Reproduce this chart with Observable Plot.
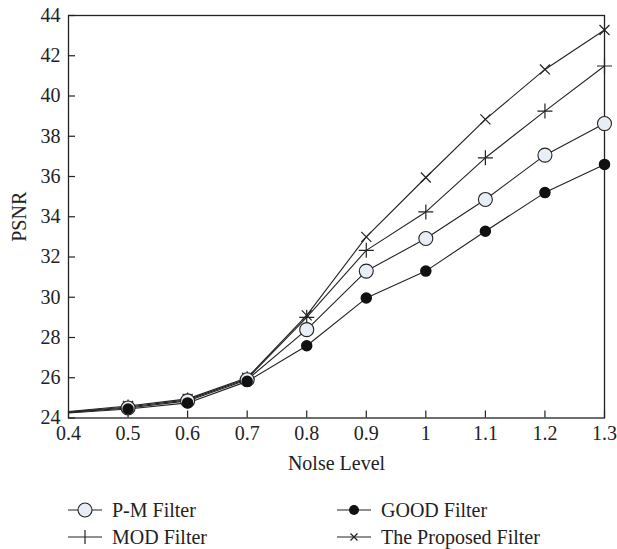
<!DOCTYPE html>
<html>
<head>
<meta charset="utf-8">
<script src="https://cdn.jsdelivr.net/npm/d3@7"></script>
<script src="https://cdn.jsdelivr.net/npm/@observablehq/plot@0.6"></script>
<style>
  html, body { margin: 0; padding: 0; background: #fff; }
  #wrap { position: relative; width: 617px; height: 549px; font-family: "Liberation Serif", "DejaVu Serif", serif; color: #222; }
  #legend { position: absolute; left: 0; top: 0; width: 617px; }
  .item { position: absolute; display: flex; align-items: center; font-size: 20px; line-height: 24px; white-space: nowrap; }
  .item svg { margin-right: 10px; display: block; }
</style>
</head>
<body>
<div id="wrap"><div id="chart"></div><div id="legend"></div></div>
<script>
const noise = [0.4, 0.5, 0.6, 0.7, 0.8, 0.9, 1.0, 1.1, 1.2, 1.3];
const pmFilter = [24.28, 24.50, 24.85, 25.90, 28.39, 31.30, 32.92, 34.86, 37.06, 38.63];
const goodFilter = [24.25, 24.45, 24.75, 25.82, 27.59, 29.96, 31.30, 33.28, 35.20, 36.60];
const modFilter = [24.30, 24.55, 24.90, 25.95, 29.00, 32.33, 34.24, 36.93, 39.25, 41.49];
const proposedFilter = [24.32, 24.60, 24.95, 26.00, 29.10, 33.00, 35.95, 38.84, 41.32, 43.28];
const seriesNames = ["P-M Filter", "GOOD Filter", "MOD Filter", "The Proposed Filter"];
const yTicks = [24, 26, 28, 30, 32, 34, 36, 38, 40, 42, 44];
const xTicks = [0.4, 0.5, 0.6, 0.7, 0.8, 0.9, 1.0, 1.1, 1.2, 1.3];

const mk = (vals, name) => noise.map((x, i) => ({x, y: vals[i], name}));
const pm = mk(pmFilter, seriesNames[0]);
const good = mk(goodFilter, seriesNames[1]);
const mod = mk(modFilter, seriesNames[2]);
const prop = mk(proposedFilter, seriesNames[3]);
const markersOnly = d => d.filter(p => p.x > 0.45);
const fmt = d => String(+d.toFixed(1));
const font = "'Liberation Serif', 'DejaVu Serif', serif";

const chart = Plot.plot({
  width: 617,
  height: 485,
  marginLeft: 68,
  marginRight: 13,
  marginTop: 15,
  marginBottom: 67.5,
  style: {fontFamily: font, fontSize: "20px", color: "#222", background: "white"},
  x: {domain: [0.4, 1.3], label: null},
  y: {domain: [24, 44], label: null},
  marks: [
    Plot.frame({stroke: "#222", strokeWidth: 1.3}),
    Plot.axisY(yTicks, {tickSize: -7, text: null, stroke: "#222", strokeWidth: 1.2}),
    Plot.axisY(yTicks, {tickSize: 0, tickPadding: 8, tickFormat: d => String(d), fontSize: 20, label: "PSNR", labelAnchor: "center", labelOffset: 57, labelArrow: "none"}),
    Plot.axisX(xTicks, {tickSize: -7, text: null, stroke: "#222", strokeWidth: 1.2}),
    Plot.axisX(xTicks, {tickSize: 0, tickPadding: 8, tickFormat: fmt, fontSize: 20, label: "Nolse Level", labelAnchor: "center", labelOffset: 52, labelArrow: "none"}),
    Plot.line(prop, {x: "x", y: "y", stroke: "#222", strokeWidth: 1.1}),
    Plot.line(mod, {x: "x", y: "y", stroke: "#222", strokeWidth: 1.1}),
    Plot.line(pm, {x: "x", y: "y", stroke: "#222", strokeWidth: 1.1}),
    Plot.line(good, {x: "x", y: "y", stroke: "#222", strokeWidth: 1.1}),
    Plot.dot(markersOnly(prop), {x: "x", y: "y", symbol: "times", r: 4.6, stroke: "#222", strokeWidth: 1.2}),
    Plot.dot(markersOnly(mod), {x: "x", y: "y", symbol: "plus", r: 4.9, stroke: "#222", strokeWidth: 1.2}),
    Plot.dot(markersOnly(pm), {x: "x", y: "y", r: 7, fill: "#e8eef6", stroke: "#222", strokeWidth: 1.1}),
    Plot.dot(markersOnly(good), {x: "x", y: "y", r: 5, fill: "#111", stroke: "#111"})
  ]
});
document.getElementById("chart").appendChild(chart);

// Legend
const legendItems = [
  {name: seriesNames[0], sym: "pm", left: 68, top: 498},
  {name: seriesNames[1], sym: "good", left: 337, top: 498},
  {name: seriesNames[2], sym: "mod", left: 68, top: 525},
  {name: seriesNames[3], sym: "prop", left: 337, top: 525}
];
const symSvg = s => {
  let inner = '<line x1="0" y1="12" x2="34" y2="12" stroke="#222" stroke-width="1.2"/>';
  if (s === "pm") inner += '<circle cx="17" cy="12" r="7" fill="#e8eef6" stroke="#222" stroke-width="1.1"/>';
  if (s === "good") inner += '<circle cx="17" cy="12" r="5" fill="#111"/>';
  if (s === "mod") inner += '<path d="M17,5V19" stroke="#222" stroke-width="1.2"/>';
  if (s === "prop") inner += '<path d="M13.5,8.5L20.5,15.5M13.5,15.5L20.5,8.5" stroke="#222" stroke-width="1.2"/>';
  return `<svg width="34" height="24" viewBox="0 0 34 24">${inner}</svg>`;
};
const lg = document.getElementById("legend");
for (const it of legendItems) {
  const div = document.createElement("div");
  div.className = "item";
  div.style.left = it.left + "px";
  div.style.top = it.top + "px";
  div.innerHTML = symSvg(it.sym) + `<span>${it.name}</span>`;
  lg.appendChild(div);
}
</script>
</body>
</html>
